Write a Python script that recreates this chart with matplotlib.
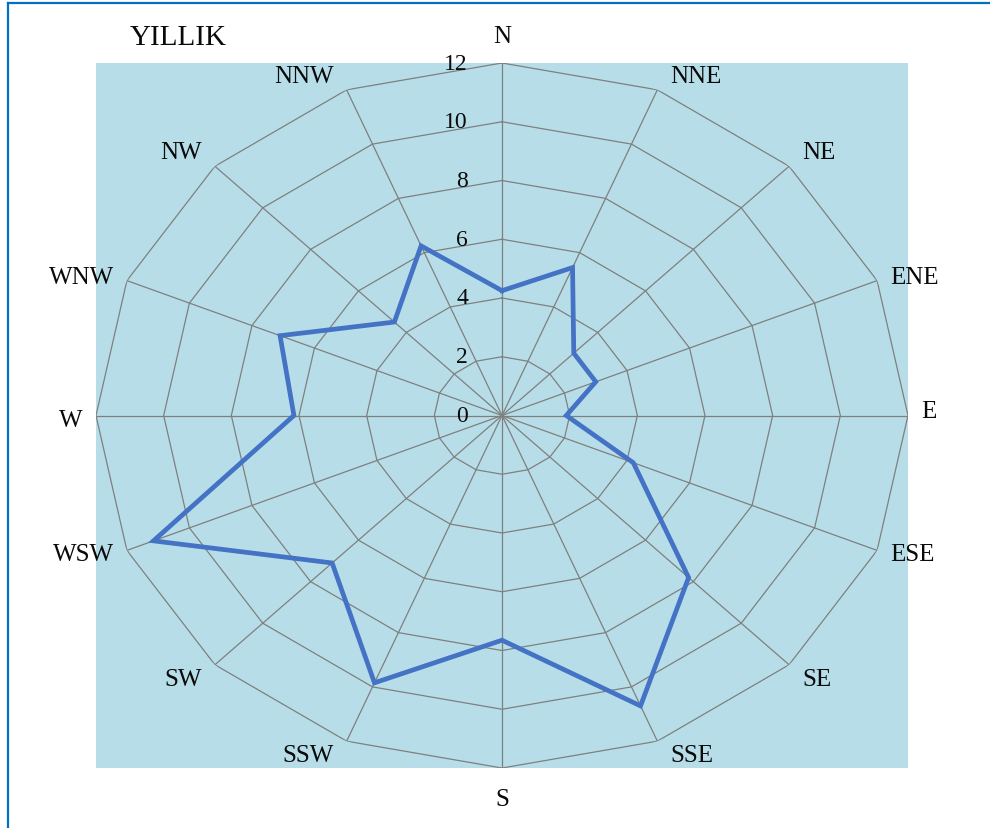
import numpy as np
import matplotlib
matplotlib.use("Agg")
import matplotlib.pyplot as plt
from matplotlib.lines import Line2D

directions = ["N", "NNE", "NE", "ENE", "E", "ESE", "SE", "SSE",
              "S", "SSW", "SW", "WSW", "W", "WNW", "NW", "NNW"]
values = [4.25, 5.45, 3.0, 3.0, 1.9, 4.2, 7.8, 10.7,
          7.65, 9.85, 7.1, 11.15, 6.15, 7.1, 4.5, 6.25]
ring_levels = [0, 2, 4, 6, 8, 10, 12]
title = "YILLIK"

plt.rcParams['font.family'] = ['Liberation Serif', 'DejaVu Serif']

W, H = 990, 829
fig = plt.figure(figsize=(W / 100, H / 100), dpi=100)
fig.patch.set_facecolor('white')

# plot area box in pixels
left_px, right_px, top_px, bot_px = 96, 908, 64, 769
rect = [left_px / W, 1 - bot_px / H, (right_px - left_px) / W, (bot_px - top_px) / H]

bg = fig.add_axes(rect, zorder=0)
bg.set_facecolor('#B7DEE8')
bg.set_xticks([]); bg.set_yticks([])
for s in bg.spines.values():
    s.set_visible(False)

ax = fig.add_axes(rect, projection='polar', zorder=1)
ax.set_aspect('auto')
ax.patch.set_visible(False)
ax.set_theta_zero_location('N')
ax.set_theta_direction(-1)
ax.set_ylim(0, max(ring_levels))
ax.grid(False)
ax.set_xticks([]); ax.set_yticks([])
ax.spines['polar'].set_visible(False)

n = len(directions)
theta = np.arange(n) * 2 * np.pi / n
theta_c = np.append(theta, theta[0])

grid_col = '#7f7f7f'
for r in ring_levels[1:]:
    ax.plot(theta_c, [r] * (n + 1), color=grid_col, lw=0.9, zorder=1)
for t in theta:
    ax.plot([t, t], [0, max(ring_levels)], color=grid_col, lw=0.9, zorder=1)

vals_c = np.append(values, values[0])
ax.plot(theta_c, vals_c, color='#4472C4', lw=3.4, zorder=3, solid_joinstyle='miter')

txt_col = '#0a0a0a'
# radial labels
for r in ring_levels:
    ax.annotate(str(r), xy=(0, r), xytext=(-34, 0), textcoords='offset pixels',
                ha='right', va='center', fontsize=17, color=txt_col, zorder=4,
                annotation_clip=False)

# direction labels
for t, lab in zip(theta, directions):
    s, c = np.sin(t), np.cos(t)
    if abs(s) < 0.1:
        ha = 'center'
        dx, dy = 0, (16 if c > 0 else -20)
        va = 'bottom' if c > 0 else 'top'
    else:
        ha = 'left' if s > 0 else 'right'
        dx = 13 * np.sign(s)
        if c > 0.5:
            va, dy = 'bottom', 3
        elif c < -0.5:
            va, dy = 'top', -3
        else:
            va, dy = 'center', 4 * np.sign(c)
    ax.annotate(lab, xy=(t, max(ring_levels)), xytext=(dx, dy),
                textcoords='offset pixels', ha=ha, va=va, fontsize=18,
                color=txt_col, annotation_clip=False)

fig.text(130 / W, 1 - 38 / H, title, ha='left', va='center', fontsize=21, color=txt_col)

# outer border (top and left visible)
border_col = '#0070C0'
fig.add_artist(Line2D([8 / W, 1], [1 - 4 / H, 1 - 4 / H], color=border_col, lw=1.6,
                      transform=fig.transFigure))
fig.add_artist(Line2D([8 / W, 8 / W], [1 - 4 / H, 0], color=border_col, lw=1.6,
                      transform=fig.transFigure))

fig.savefig('out.png', dpi=100)
